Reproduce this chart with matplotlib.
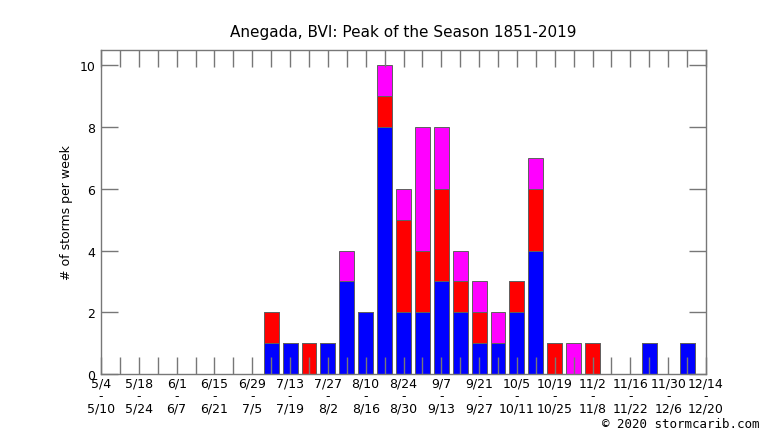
import matplotlib
matplotlib.use("Agg")
import matplotlib.pyplot as plt
import numpy as np

# week starts (every 2nd week labelled)
label_start = ["5/4", "5/18", "6/1", "6/15", "6/29", "7/13", "7/27", "8/10", "8/24",
               "9/7", "9/21", "10/5", "10/19", "11/2", "11/16", "11/30", "12/14"]
label_end = ["5/10", "5/24", "6/7", "6/21", "7/5", "7/19", "8/2", "8/16", "8/30",
             "9/13", "9/27", "10/11", "10/25", "11/8", "11/22", "12/6", "12/20"]

# weekly counts, week index 0 = 5/4 ... 31 = 12/7
blue = [0, 0, 0, 0, 0, 0, 0, 0, 0, 1, 1, 0, 1, 3, 2, 8, 2, 2, 3, 2, 1, 1, 2, 4,
        0, 0, 0, 0, 0, 1, 0, 1]
red = [0, 0, 0, 0, 0, 0, 0, 0, 0, 1, 0, 1, 0, 0, 0, 1, 3, 2, 3, 1, 1, 0, 1, 2,
       1, 0, 1, 0, 0, 0, 0, 0]
magenta = [0, 0, 0, 0, 0, 0, 0, 0, 0, 0, 0, 0, 0, 1, 0, 1, 1, 4, 2, 1, 1, 1, 0, 1,
           0, 1, 0, 0, 0, 0, 0, 0]

blue = np.array(blue)
red = np.array(red)
magenta = np.array(magenta)
weeks = np.arange(len(blue))

fig = plt.figure(figsize=(7.66, 4.31), dpi=100)
ax = fig.add_axes([101/766, 56/431, 605/766, 324/431])

edge = "#606060"
w = 0.79
ax.bar(weeks, blue, width=w, color="#0000ff", edgecolor=edge, linewidth=0.7)
ax.bar(weeks, red, width=w, bottom=blue, color="#ff0000", edgecolor=edge, linewidth=0.7)
ax.bar(weeks, magenta, width=w, bottom=blue + red, color="#ff00ff", edgecolor=edge, linewidth=0.7)

ax.set_xlim(0, 32)
ax.set_ylim(0, 10.5)

ax.set_yticks([0, 2, 4, 6, 8, 10])
ax.set_xticks(np.arange(0, 33, 2))
ax.set_xticklabels([f"{a}\n-\n{b}" for a, b in zip(label_start, label_end)],
                   linespacing=0.95)
ax.set_xticks(np.arange(1, 32, 2), minor=True)

ax.tick_params(axis="both", which="both", direction="in", length=12.5, width=1,
               color="#777777", labelsize=9, top=True, right=True, pad=4)
ax.tick_params(axis="x", which="both", pad=1.5)

for s in ax.spines.values():
    s.set_color("#777777")
    s.set_linewidth(1)

ax.set_ylabel("# of storms per week", fontsize=9, labelpad=5)
ax.set_title("Anegada, BVI: Peak of the Season 1851-2019", fontsize=11, pad=10)

fig.text(760/766, 1 - 425/431, "\u00a9 2020 stormcarib.com", ha="right", va="center",
         fontsize=9, family="DejaVu Sans Mono")

fig.savefig("out.png", dpi=100)
